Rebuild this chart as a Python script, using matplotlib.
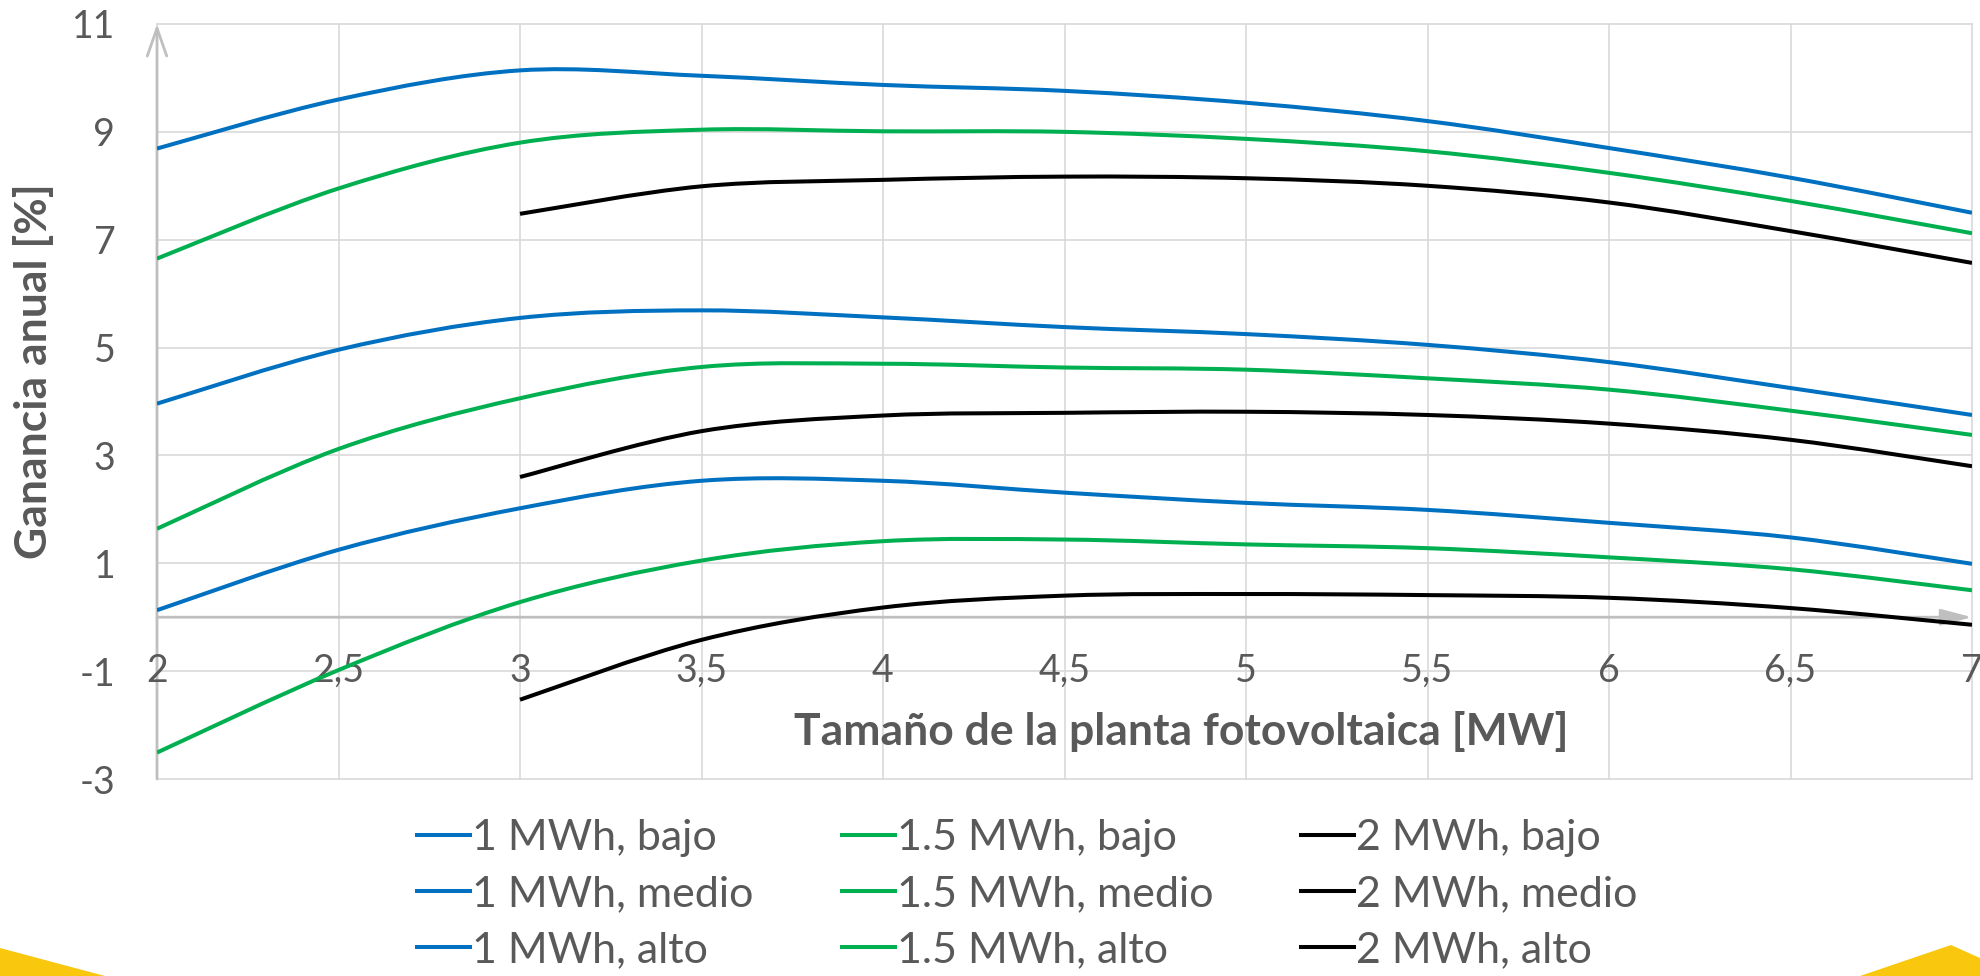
import numpy as np
import matplotlib
matplotlib.use('Agg')
import matplotlib.pyplot as plt
from matplotlib.path import Path
from matplotlib.patches import PathPatch, Polygon
from matplotlib.lines import Line2D

plt.rcParams['font.family'] = ['Lato', 'DejaVu Sans']

# ---------------- data ----------------
x_full = [2, 2.5, 3, 3.5, 4, 4.5, 5, 5.5, 6, 6.5, 7]
x_2mwh = [3, 3.5, 4, 4.5, 5, 5.5, 6, 6.5, 7]

mwh1_bajo = [8.69, 9.60, 10.14, 10.04, 9.87, 9.76, 9.54, 9.20, 8.70, 8.15, 7.50]
mwh15_bajo = [6.65, 7.95, 8.80, 9.04, 9.01, 9.00, 8.87, 8.64, 8.24, 7.72, 7.12]
mwh2_bajo = [7.48, 7.99, 8.11, 8.17, 8.14, 8.00, 7.69, 7.16, 6.57]

mwh1_medio = [3.96, 4.96, 5.55, 5.69, 5.56, 5.38, 5.25, 5.05, 4.73, 4.25, 3.75]
mwh15_medio = [1.64, 3.12, 4.06, 4.64, 4.70, 4.63, 4.59, 4.43, 4.22, 3.83, 3.38]
mwh2_medio = [2.60, 3.45, 3.74, 3.79, 3.81, 3.75, 3.59, 3.29, 2.80]

mwh1_alto = [0.13, 1.25, 2.02, 2.53, 2.53, 2.31, 2.12, 1.99, 1.75, 1.48, 0.99]
mwh15_alto = [-2.51, -0.98, 0.28, 1.05, 1.41, 1.44, 1.35, 1.28, 1.11, 0.89, 0.50]
mwh2_alto = [-1.53, -0.42, 0.18, 0.40, 0.43, 0.41, 0.36, 0.17, -0.14]

x_ticks = [2, 2.5, 3, 3.5, 4, 4.5, 5, 5.5, 6, 6.5, 7]
x_tick_labels = ['2', '2,5', '3', '3,5', '4', '4,5', '5', '5,5', '6', '6,5', '7']
y_ticks = [-3, -1, 1, 3, 5, 7, 9, 11]
y_tick_labels = ['-3', '-1', '1', '3', '5', '7', '9', '11']

BLUE = '#0070C0'
GREEN = '#00B050'
BLACK = '#000000'
TXT = '#595959'
GRID = '#D9D9D9'
AXIS = '#BFBFBF'

series = [
    ('1 MWh, bajo', x_full, mwh1_bajo, BLUE),
    ('1 MWh, medio', x_full, mwh1_medio, BLUE),
    ('1 MWh, alto', x_full, mwh1_alto, BLUE),
    ('1.5 MWh, bajo', x_full, mwh15_bajo, GREEN),
    ('1.5 MWh, medio', x_full, mwh15_medio, GREEN),
    ('1.5 MWh, alto', x_full, mwh15_alto, GREEN),
    ('2 MWh, bajo', x_2mwh, mwh2_bajo, BLACK),
    ('2 MWh, medio', x_2mwh, mwh2_medio, BLACK),
    ('2 MWh, alto', x_2mwh, mwh2_alto, BLACK),
]


def smooth_path(xs, ys):
    """Excel-like smoothed line: cubic Bezier segments through the data points."""
    P = np.column_stack([xs, ys]).astype(float)
    n = len(P)
    verts = [P[0]]
    codes = [Path.MOVETO]
    for i in range(n - 1):
        p0 = P[i - 1] if i > 0 else P[i]
        p1 = P[i]
        p2 = P[i + 1]
        p3 = P[i + 2] if i + 2 < n else P[i + 1]
        verts += [p1 + (p2 - p0) / 6.0, p2 - (p3 - p1) / 6.0, p2]
        codes += [Path.CURVE4] * 3
    return Path(verts, codes)


W, H = 1980, 976
fig = plt.figure(figsize=(W / 100, H / 100), dpi=100)
fig.patch.set_facecolor('white')

# decorative yellow corners
fig.patches.append(Polygon([(0, 0), (0, 28 / H), (105 / W, 0)], closed=True,
                           transform=fig.transFigure, facecolor='#F9C80E',
                           edgecolor='none', zorder=0))
fig.patches.append(Polygon([(1860 / W, 0), (1951 / W, 31 / H), (1.0, 18 / H), (1.0, 0)],
                           closed=True, transform=fig.transFigure,
                           facecolor='#F9C80E', edgecolor='none', zorder=0))

ax = fig.add_axes([157 / W, 1 - 779 / H, (1972 - 157) / W, (779 - 24) / H])
ax.set_xlim(2, 7)
ax.set_ylim(-3, 11)
for s in ax.spines.values():
    s.set_visible(False)
ax.set_xticks(x_ticks)
ax.set_yticks(y_ticks)
ax.set_yticklabels(y_tick_labels)
ax.tick_params(axis='both', length=0)
ax.tick_params(axis='x', labelbottom=False)
ax.tick_params(axis='y', labelsize=27, labelcolor=TXT, pad=30)
ax.grid(True, color=GRID, lw=1.2)
ax.set_axisbelow(True)
for gl in ax.get_xgridlines() + ax.get_ygridlines():
    gl.set_clip_on(False)

# x tick labels sit at the y = -1 level inside the plot
for xv, lab in zip(x_ticks, x_tick_labels):
    ax.text(xv, -1, lab, ha='center', va='center', fontsize=27, color=TXT, zorder=3)

# axis lines with arrows
ax.annotate('', xy=(2, 11), xytext=(2, -3), xycoords='data', annotation_clip=False,
            arrowprops=dict(arrowstyle='->,head_length=2.0,head_width=0.7',
                            color=AXIS, lw=2.0, shrinkA=0, shrinkB=0,
                            mutation_scale=10), zorder=2.5)
ax.annotate('', xy=(7, 0), xytext=(2, 0), xycoords='data', annotation_clip=False,
            arrowprops=dict(arrowstyle='-|>,head_length=1.9,head_width=0.5',
                            color=AXIS, lw=2.0, shrinkA=0, shrinkB=0,
                            mutation_scale=10), zorder=2.5)

# curves
handles = []
for label, xs, ys, col in series:
    patch = PathPatch(smooth_path(xs, ys), facecolor='none', edgecolor=col,
                      lw=2.9, capstyle='butt', joinstyle='round', zorder=4)
    ax.add_patch(patch)
    handles.append(Line2D([], [], color=col, lw=2.9, label=label))

# axis titles
fig.text(34 / W, 1 - 371 / H, 'Ganancia anual [%]', rotation=90, ha='center',
         va='center', fontsize=32, fontweight='bold', color=TXT)
fig.text(1181 / W, 1 - 732 / H, 'Tamaño de la planta fotovoltaica [MW]', ha='center',
         va='center', fontsize=32, fontweight='bold', color=TXT)

# legend: three columns
col_x = [417 / W, 842 / W, 1301 / W]
for c in range(3):
    hs = handles[3 * c:3 * c + 3]
    fig.legend(hs, [h.get_label() for h in hs], loc='center left',
               bbox_to_anchor=(col_x[c], 1 - 894 / H), frameon=False,
               fontsize=31, labelcolor=TXT, handlelength=1.23, handletextpad=0.05,
               labelspacing=0.42, borderpad=0, borderaxespad=0)

fig.savefig('out.png', dpi=100, facecolor='white')
